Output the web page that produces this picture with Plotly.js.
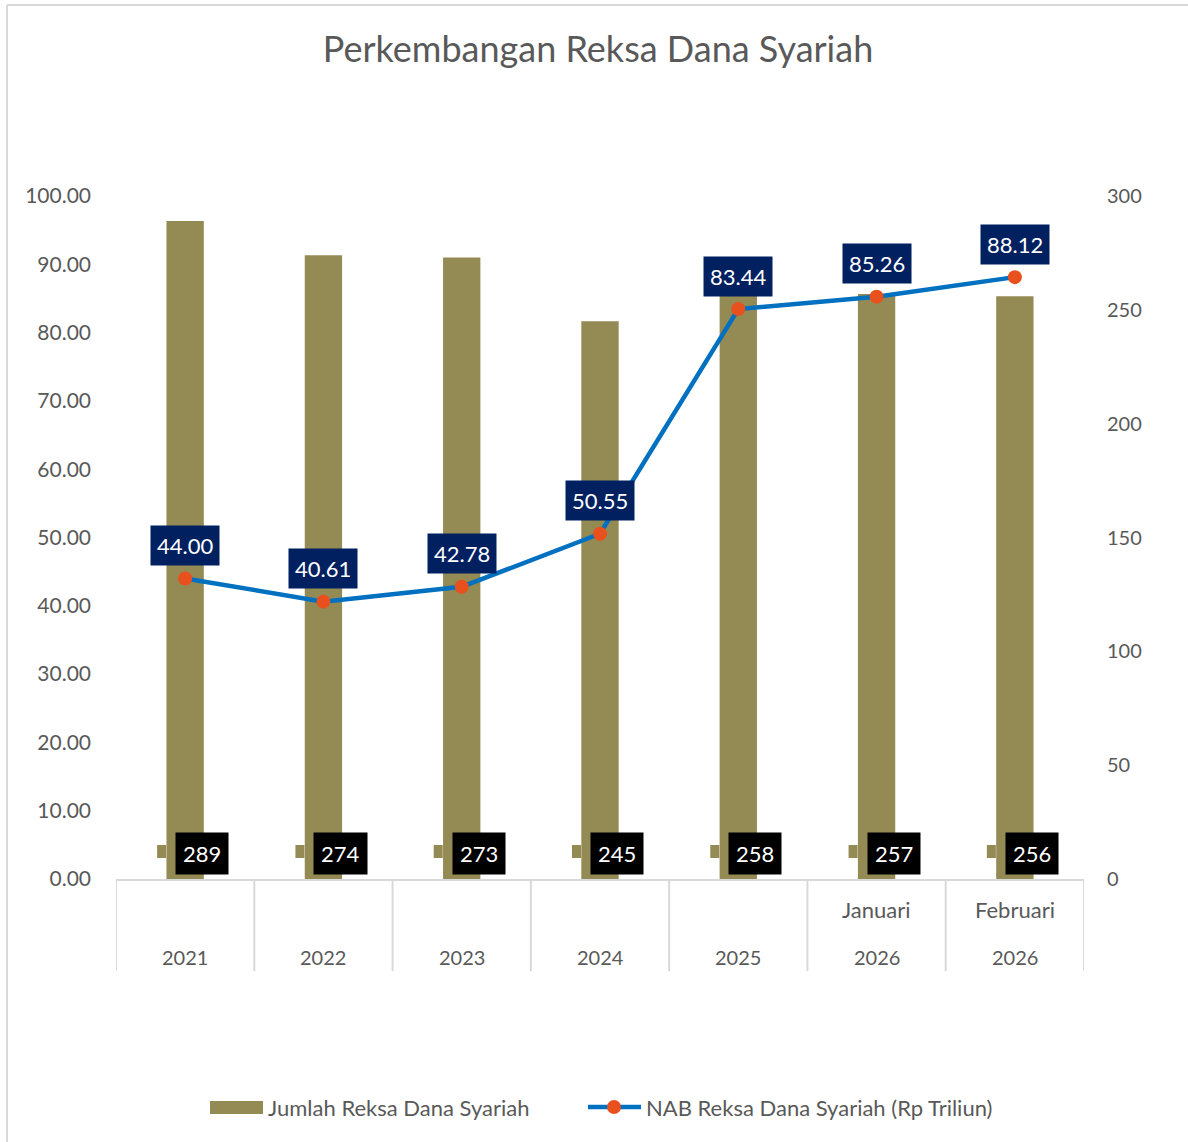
<!DOCTYPE html>
<html>
<head>
<meta charset="utf-8">
<script src="https://cdn.plot.ly/plotly-3.0.1.min.js"></script>
<style>
  html, body { margin: 0; padding: 0; background: #fff; }
  #chart { width: 1188px; height: 1142px; }
</style>
</head>
<body>
<div id="chart"></div>
<script>
// ---- data ----
const categories = ["2021", "2022", "2023", "2024", "2025", "Januari 2026", "Februari 2026"];
const monthLabels = ["", "", "", "", "", "Januari", "Februari"];
const yearLabels = ["2021", "2022", "2023", "2024", "2025", "2026", "2026"];
const jumlahReksaDana = [289, 274, 273, 245, 258, 257, 256];
const nabReksaDana = [44.00, 40.61, 42.78, 50.55, 83.44, 85.26, 88.12];
const leftTicks = [0, 10, 20, 30, 40, 50, 60, 70, 80, 90, 100];
const rightTicks = [0, 50, 100, 150, 200, 250, 300];
const seriesNames = ["Jumlah Reksa Dana Syariah", "NAB Reksa Dana Syariah (Rp Triliun)"];

// ---- layout constants ----
const W = 1188, H = 1142;
const M = { l: 116, r: 1188 - 1084, t: 196, b: 1142 - 879 };
const plotW = W - M.l - M.r, plotH = H - M.t - M.b;
const px2paperX = p => (p - M.l) / plotW;
const px2paperY = p => (H - M.b - p) / plotH;

const FONT = "Lato, 'Open Sans', sans-serif";
const GRAY = "#595959";
const OLIVE = "#948A54";
const BLUE = "#0070C0";
const ORANGE = "#E8501E";
const NAVY = "#002060";
const LINEGRAY = "#D9D9D9";

const idx = categories.map((_, i) => i);

const traces = [
  {
    type: "bar",
    name: seriesNames[0],
    x: idx,
    y: jumlahReksaDana,
    yaxis: "y",
    width: 0.27,
    marker: { color: OLIVE },
    hoverinfo: "x+y"
  },
  {
    type: "scatter",
    mode: "lines+markers",
    name: seriesNames[1],
    x: idx,
    y: nabReksaDana,
    yaxis: "y2",
    line: { color: BLUE, width: 4.5 },
    marker: { color: ORANGE, size: 14 }
  }
];

const annotations = [];
const shapes = [];

// line data labels (navy boxes)
idx.forEach(i => {
  annotations.push({
    x: i, y: nabReksaDana[i], xref: "x", yref: "y2",
    text: nabReksaDana[i].toFixed(2),
    showarrow: false, yanchor: "middle", yshift: 33,
    bgcolor: NAVY, borderpad: 6,
    font: { family: FONT, size: 22, color: "#FFFFFF" }
  });
});

// bar data labels (black boxes near the bottom) with olive legend key
idx.forEach(i => {
  annotations.push({
    x: i, y: 0, xref: "x", yref: "paper",
    text: String(jumlahReksaDana[i]),
    showarrow: false, yanchor: "middle", yshift: 26, xshift: 17,
    bgcolor: "#000000", borderpad: 7,
    font: { family: FONT, size: 22, color: "#FFFFFF" }
  });
  shapes.push({
    type: "rect", xref: "x", yref: "paper",
    xsizemode: "pixel", ysizemode: "pixel",
    xanchor: i, yanchor: 0,
    x0: -28, x1: -19, y0: 21, y1: 34,
    fillcolor: OLIVE, line: { width: 0 }, layer: "above"
  });
});

// x category labels (two rows)
idx.forEach(i => {
  if (monthLabels[i]) {
    annotations.push({
      x: i, y: px2paperY(909), xref: "x", yref: "paper",
      text: monthLabels[i], showarrow: false, yanchor: "middle",
      font: { family: FONT, size: 22, color: GRAY }
    });
  }
  annotations.push({
    x: i, y: px2paperY(957), xref: "x", yref: "paper",
    text: yearLabels[i], showarrow: false, yanchor: "middle",
    font: { family: FONT, size: 20, color: GRAY }
  });
});

// vertical dividers of the category axis
for (let k = 0; k <= categories.length; k++) {
  shapes.push({
    type: "line", xref: "x", yref: "paper",
    x0: k - 0.5, x1: k - 0.5, y0: 0, y1: px2paperY(971),
    line: { color: LINEGRAY, width: 2 }
  });
}

// outer border (left and top)
shapes.push({
  type: "line", xref: "paper", yref: "paper",
  x0: px2paperX(7), x1: px2paperX(7), y0: px2paperY(5), y1: px2paperY(1142),
  line: { color: LINEGRAY, width: 2 }
});
shapes.push({
  type: "line", xref: "paper", yref: "paper",
  x0: px2paperX(7), x1: px2paperX(1188), y0: px2paperY(5), y1: px2paperY(5),
  line: { color: LINEGRAY, width: 2 }
});

// custom legend
const legY = px2paperY(1107);
shapes.push({
  type: "rect", xref: "paper", yref: "paper",
  x0: px2paperX(210), x1: px2paperX(263), y0: px2paperY(1101), y1: px2paperY(1114),
  fillcolor: OLIVE, line: { width: 0 }
});
annotations.push({
  x: px2paperX(266), y: legY, xref: "paper", yref: "paper",
  text: seriesNames[0], showarrow: false, xanchor: "left", yanchor: "middle",
  font: { family: FONT, size: 22, color: GRAY }
});
shapes.push({
  type: "line", xref: "paper", yref: "paper",
  x0: px2paperX(588), x1: px2paperX(641), y0: legY, y1: legY,
  line: { color: BLUE, width: 4.5 }
});
shapes.push({
  type: "circle", xref: "paper", yref: "paper",
  x0: px2paperX(607), x1: px2paperX(621), y0: px2paperY(1100), y1: px2paperY(1114),
  fillcolor: ORANGE, line: { width: 0 }
});
annotations.push({
  x: px2paperX(644), y: legY, xref: "paper", yref: "paper",
  text: seriesNames[1], showarrow: false, xanchor: "left", yanchor: "middle",
  font: { family: FONT, size: 22, color: GRAY }
});

const layout = {
  width: W, height: H,
  margin: M,
  paper_bgcolor: "#FFFFFF",
  plot_bgcolor: "#FFFFFF",
  font: { family: FONT, color: GRAY },
  title: {
    text: "Perkembangan Reksa Dana Syariah",
    font: { family: FONT, size: 36, color: GRAY },
    x: 598 / W, xanchor: "center", y: 1 - 49 / H, yanchor: "middle"
  },
  showlegend: false,
  xaxis: {
    type: "linear",
    range: [-0.5, categories.length - 0.5],
    showticklabels: false,
    showgrid: false,
    zeroline: false,
    showline: true,
    linecolor: LINEGRAY,
    linewidth: 2,
    ticks: ""
  },
  yaxis: {
    side: "right",
    range: [0, 300],
    tickvals: rightTicks,
    ticktext: rightTicks.map(String),
    showgrid: false,
    zeroline: false,
    showline: false,
    ticks: "",
    ticklabelstandoff: 22,
    tickfont: { family: FONT, size: 20, color: GRAY }
  },
  yaxis2: {
    overlaying: "y",
    side: "left",
    range: [0, 100],
    tickvals: leftTicks,
    ticktext: leftTicks.map(v => v.toFixed(2)),
    showgrid: false,
    zeroline: false,
    showline: false,
    ticks: "",
    ticklabelstandoff: 24,
    tickfont: { family: FONT, size: 21, color: GRAY }
  },
  annotations: annotations,
  shapes: shapes
};

Plotly.newPlot("chart", traces, layout, { displayModeBar: false, staticPlot: true });
</script>
</body>
</html>
